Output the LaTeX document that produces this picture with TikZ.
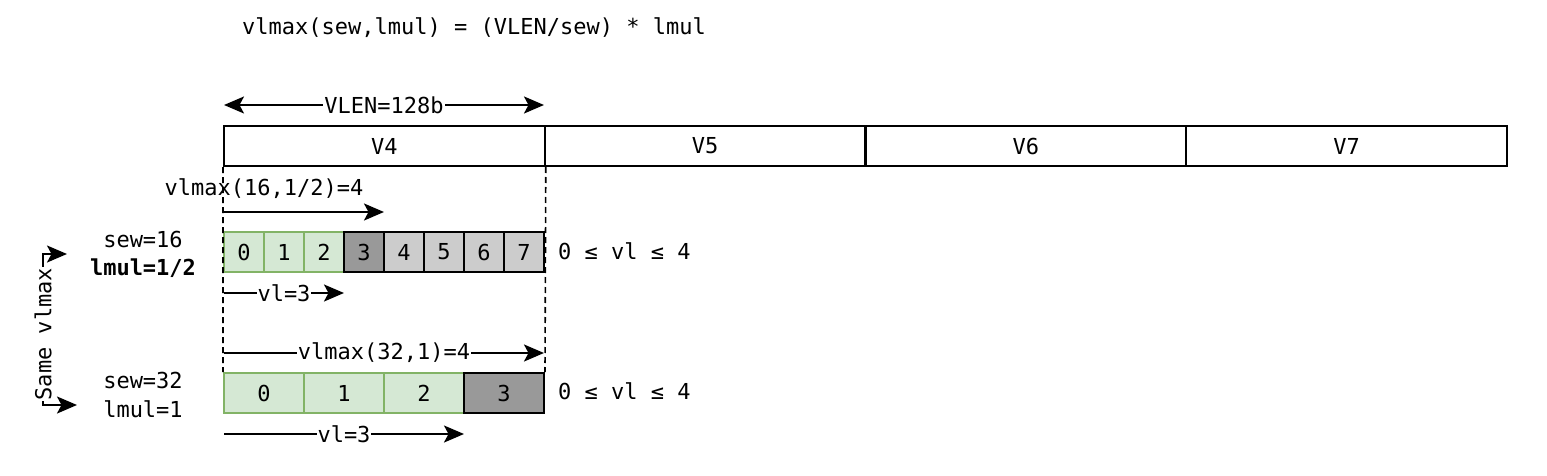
\documentclass[tikz,border=0pt]{standalone}
\usepackage{fontspec}
\newfontfamily\monof{DejaVu Sans Mono}
\usetikzlibrary{arrows.meta}
\definecolor{gfill}{HTML}{D5E8D4}
\definecolor{gline}{HTML}{82B366}
\definecolor{dgray}{HTML}{999999}
\definecolor{lgray}{HTML}{CCCCCC}
\tikzset{
  txt/.style={font=\monof\fontsize{22}{26}\selectfont, inner sep=1pt},
  reg/.style={txt, draw=black, line width=2pt, minimum width=320.75pt, minimum height=40pt, inner sep=0pt},
  gcell/.style={txt, draw=gline, fill=gfill, line width=2pt, minimum height=40pt, inner sep=0pt},
  dcell/.style={txt, draw=black, fill=dgray, line width=2pt, minimum height=40pt, inner sep=0pt},
  lcell/.style={txt, draw=black, fill=lgray, line width=2pt, minimum height=40pt, inner sep=0pt},
  tip/.tip={Stealth[length=20pt,width=17pt,inset=4.5pt]},
  arr/.style={line width=2pt, -tip},
  darr/.style={line width=2pt, tip-tip},
  lbl/.style={txt, fill=white, inner sep=1pt},
  guide/.style={line width=1.6pt, dash pattern=on 6pt off 4pt}
}
\begin{document}
\begin{tikzpicture}[x=1pt,y=-1pt]
\useasboundingbox (0,0) rectangle (1547,476);

% title
\node[txt] (title) at (474,28) {vlmax(sew,lmul) = (VLEN/sew) * lmul};

% registers
\node[reg] (v4) at (384.4,146) {V4};
\node[reg] (v5) at (705.1,146) {V5};
\node[reg] (v6) at (1025.9,146) {V6};
\node[reg] (v7) at (1346.6,146) {V7};

% row 1 cells
\node[gcell, minimum width=40pt] (r1c0) at (244,252) {0};
\node[gcell, minimum width=40pt] (r1c1) at (284,252) {1};
\node[gcell, minimum width=40pt] (r1c2) at (324,252) {2};
\node[dcell, minimum width=40pt] (r1c3) at (364,252) {3};
\node[lcell, minimum width=40pt] (r1c4) at (404,252) {4};
\node[lcell, minimum width=40pt] (r1c5) at (444,252) {5};
\node[lcell, minimum width=40pt] (r1c6) at (484,252) {6};
\node[lcell, minimum width=40pt] (r1c7) at (524,252) {7};

% row 2 cells
\node[gcell, minimum width=80pt] (r2c0) at (264,393) {0};
\node[gcell, minimum width=80pt] (r2c1) at (344,393) {1};
\node[gcell, minimum width=80pt] (r2c2) at (424,393) {2};
\node[dcell, minimum width=80pt] (r2c3) at (504,393) {3};

% dashed guides
\draw[guide] (v4.south west) -- (r2c0.north west);
\draw[guide] (v4.south east) -- (r2c3.north east);

% VLEN arrow
\coordinate (vlenL) at (224,105);
\coordinate (vlenR) at (544,105);
\draw[darr] (vlenL) -- node[lbl] (vlenlab) {VLEN=128b} (vlenR);

% vlmax(16,1/2)
\node[txt] (vm1lab) at (264,189) {vlmax(16,1/2)=4};
\coordinate (vm1s) at (224,212);
\coordinate (vm1e) at (384,212);
\draw[arr] (vm1s) -- (vm1e);

% vl=3 row 1
\coordinate (vl1s) at (224,293);
\coordinate (vl1e) at (344,293);
\draw[arr] (vl1s) -- node[lbl, pos=0.5] (vl1lab) {vl=3} (vl1e);

% vlmax(32,1)
\coordinate (vm2s) at (224,353);
\coordinate (vm2e) at (544,353);
\draw[arr] (vm2s) -- node[lbl] (vm2lab) {vlmax(32,1)=4} (vm2e);

% vl=3 row 2
\coordinate (vl2s) at (224,434);
\coordinate (vl2e) at (464,434);
\draw[arr] (vl2s) -- node[lbl] (vl2lab) {vl=3} (vl2e);

% ranges
\node[txt, anchor=west] (rng1) at (557,251) {0 ≤ vl ≤ 4};
\node[txt, anchor=west] (rng2) at (557,391) {0 ≤ vl ≤ 4};

% left labels
\node[txt] (sew16) at (143,239) {sew=16};
\node[txt, font=\monof\bfseries\fontsize{22}{26}\selectfont] (lmul12) at (143,268) {lmul=1/2};
\node[txt] (sew32) at (143,380) {sew=32};
\node[txt] (lmul1) at (143,409) {lmul=1};

% same vlmax bracket
\coordinate (brA) at (67,254);
\coordinate (brB) at (77,405);
\draw[darr] (brA) -- (43,254) -- node[lbl, rotate=90, pos=0.53] (samelab) {Same vlmax} (43,405) -- (brB);
\end{tikzpicture}
\end{document}
